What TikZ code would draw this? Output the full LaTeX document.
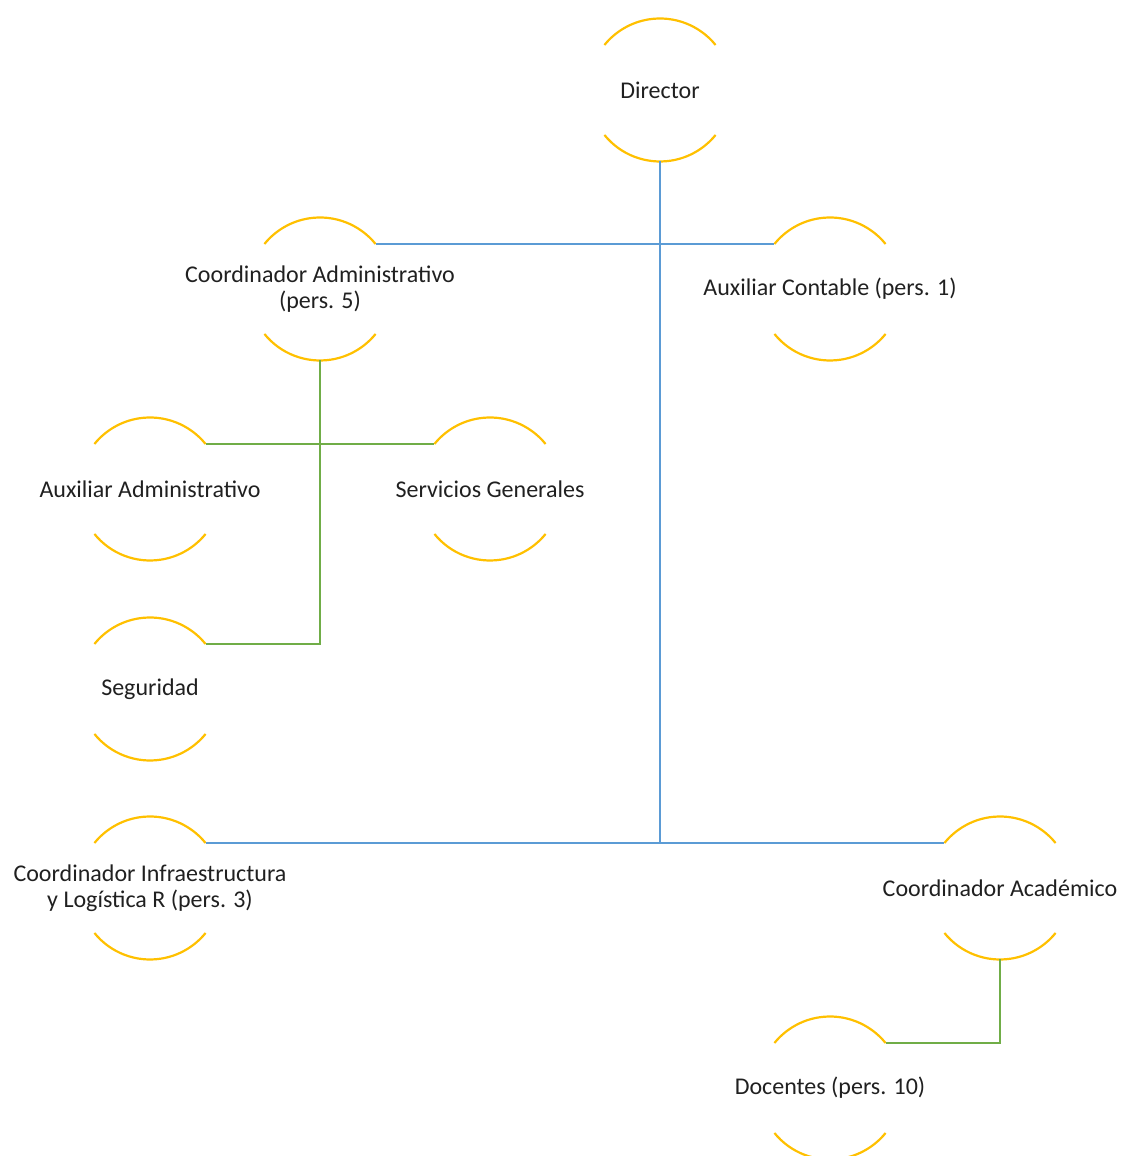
\documentclass[tikz,border=0pt]{standalone}
\usepackage{fontspec}
\setmainfont{Carlito}
\definecolor{ringc}{HTML}{FFC000}
\definecolor{bluec}{HTML}{5B9BD5}
\definecolor{greenc}{HTML}{70AD47}
\definecolor{txtc}{HTML}{202020}
\begin{document}
\begin{tikzpicture}[x=1pt,y=1pt,
  ringnode/.style={circle,minimum size=143pt,inner sep=0pt,outer sep=0pt},
  ring/.style={draw=ringc,line width=2.2pt},
  lbl/.style={font=\fontsize{24}{25.5}\selectfont,text=txtc,align=center,inner sep=0pt},
  bl/.style={draw=bluec,line width=2.4pt},
  gr/.style={draw=greenc,line width=2.4pt}]
\useasboundingbox (0,0) rectangle (1121,1156);
\node[ringnode] (d)   at (660,1066) {};
\node[ringnode] (ca)  at (320,867) {};
\node[ringnode] (ac)  at (830,867) {};
\node[ringnode] (aa)  at (150,667) {};
\node[ringnode] (sg)  at (490,667) {};
\node[ringnode] (seg) at (150,467) {};
\node[ringnode] (inf) at (150,268) {};
\node[ringnode] (acd) at (1000,268) {};
\node[ringnode] (doc) at (830,68) {};
\foreach \n in {d,ca,ac,aa,sg,seg,inf,acd,doc}{
  \draw[ring] (\n.39) arc[start angle=39,end angle=141,radius=71.5pt];
  \draw[ring] (\n.219) arc[start angle=219,end angle=321,radius=71.5pt];
}
\node[lbl] (dt)   at (d)   {Director};
\node[lbl] (cat)  at (ca)  {Coordinador Administrativo\\(pers. 5)};
\node[lbl] (act)  at (ac)  {Auxiliar Contable (pers. 1)};
\node[lbl] (aat)  at (aa)  {Auxiliar Administrativo};
\node[lbl] (sgt)  at (sg)  {Servicios Generales};
\node[lbl] (segt) at (seg) {Seguridad};
\node[lbl] (inft) at (inf) {Coordinador Infraestructura\\y Logística R (pers. 3)};
\node[lbl] (acdt) at (acd) {Coordinador Académico};
\node[lbl] (doct) at (doc) {Docentes (pers. 10)};
% blue connectors
\draw[bl] (d.south) -- (d.south |- inf.39);
\draw[bl] (ca.39) -- (ac.141);
\draw[bl] (inf.39) -- (acd.141);
% green connectors
\draw[gr] (ca.south) -- (ca.south |- seg.39) -- (seg.39);
\draw[gr] (aa.39) -- (sg.141);
\draw[gr] (acd.south) |- (doc.39);
\end{tikzpicture}
\end{document}
